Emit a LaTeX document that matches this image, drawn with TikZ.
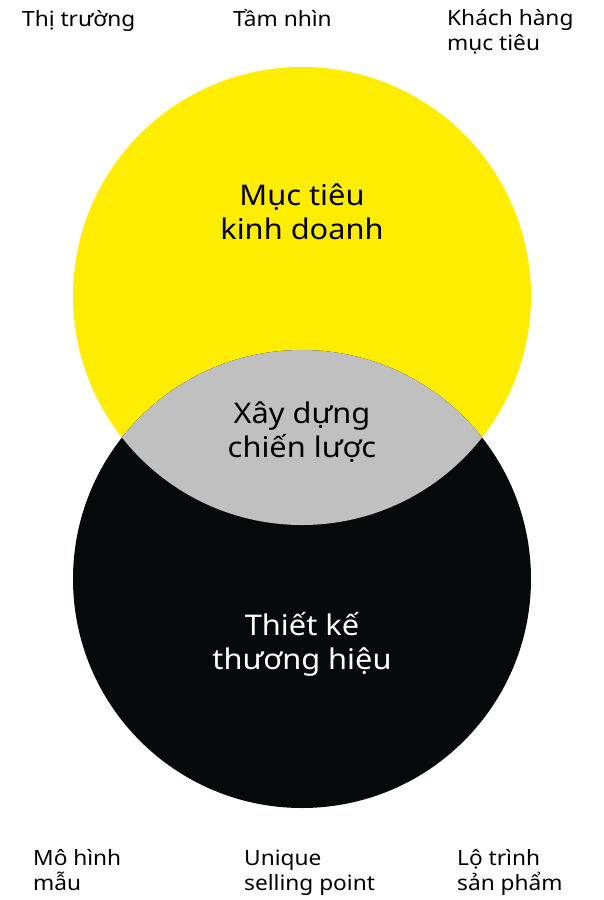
\documentclass[tikz,border=0pt]{standalone}
\usepackage{fontspec}
\setmainfont[FakeStretch=1.08]{Noto Sans}
\definecolor{vyellow}{HTML}{FFED00}
\definecolor{vgray}{HTML}{C0C0C0}
\definecolor{vblack}{HTML}{060A0B}
\tikzset{
  smalllbl/.style={anchor=base west,align=left,inner sep=0pt,font=\fontsize{21}{25}\selectfont,text=black},
  biglbl/.style={align=center,inner sep=0pt,font=\fontsize{28.5}{34}\selectfont},
  vcircle/.style={circle,minimum size=458pt,inner sep=0pt}
}
\begin{document}
\begin{tikzpicture}[x=1pt,y=-1pt]
\useasboundingbox[fill=white] (0,0) rectangle (603,900);
\node[vcircle,fill=vyellow] (top) at (302,296) {};
\node[vcircle,fill=vblack] (bot) at (302,579) {};
\begin{scope}
  \clip (302,296) circle (229);
  \fill[vgray] (302,579) circle (229);
\end{scope}
\node[biglbl,text=black] (goal) at (302,212) {Mục tiêu\\kinh doanh};
\node[biglbl,text=black] (strat) at (302,432) {Xây dựng\\chiến lược};
\node[biglbl,text=white] (brand) at (302,644) {Thiết kế\\thương hiệu};
\node[smalllbl] (market) at (22,26) {Thị trường};
\node[smalllbl] (vision) at (233,26) {Tầm nhìn};
\node[smalllbl] (cust) at (447,50) {Khách hàng\\mục tiêu};
\node[smalllbl] (model) at (33,890) {Mô hình\\mẫu};
\node[smalllbl] (usp) at (244,890) {Unique\\selling point};
\node[smalllbl] (road) at (457,890) {Lộ trình\\sản phẩm};
\end{tikzpicture}
\end{document}
